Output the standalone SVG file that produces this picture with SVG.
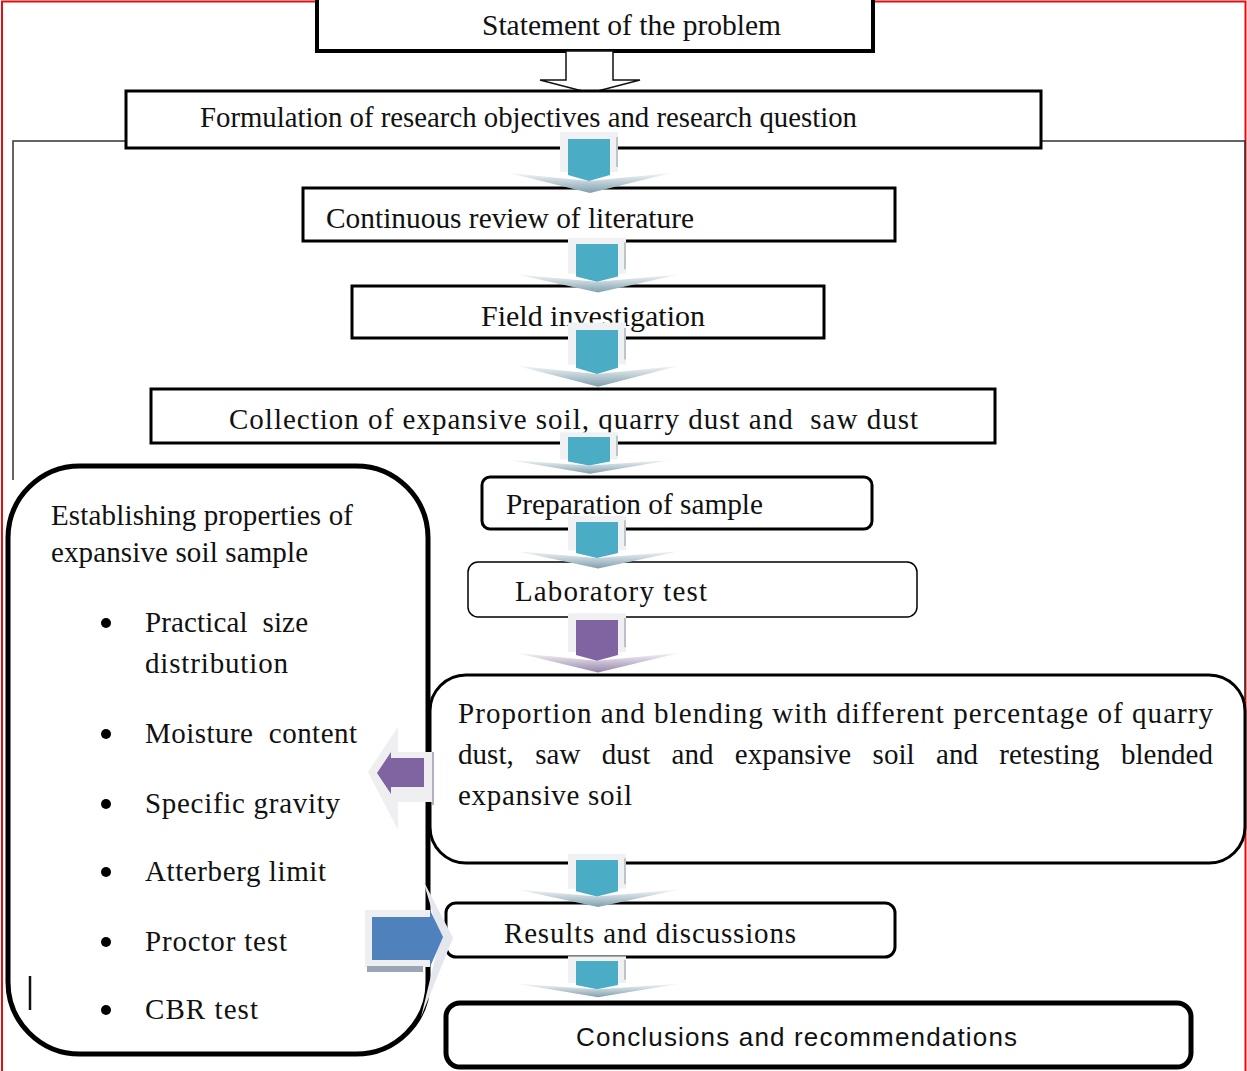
<svg xmlns="http://www.w3.org/2000/svg" xmlns:xlink="http://www.w3.org/1999/xlink" width="1247" height="1071" viewBox="0 0 1247 1071">
<style>
.t{font-family:"Liberation Serif","Times New Roman",serif;font-size:29px;fill:#111}
.s{font-family:"Liberation Sans",Arial,sans-serif;font-size:26px;fill:#111}
.box{fill:#fff;stroke:#000}
</style>
<defs>
<linearGradient id="wingT" x1="0" y1="0" x2="0" y2="1">
<stop offset="0" stop-color="#f4f6f7"/><stop offset="1" stop-color="#7f9fae"/>
</linearGradient>
<linearGradient id="wingP" x1="0" y1="0" x2="0" y2="1">
<stop offset="0" stop-color="#f5f3f7"/><stop offset="1" stop-color="#9585aa"/>
</linearGradient>
<g id="arrT">
<rect x="-29" y="-7" width="58" height="40" fill="#f0f1f2"/>
<line x1="28" y1="-2" x2="28" y2="28" stroke="#bcc5ca" stroke-width="2"/>
<polygon points="-80,34 0,42 82,34 1,54" fill="url(#wingT)"/>
<polygon points="-21,0 21,0 21,36 0,42 -21,36" fill="#4bacc6"/>
</g>
<g id="arrP">
<rect x="-29" y="-7" width="58" height="40" fill="#f0f0f2"/>
<line x1="28" y1="-2" x2="28" y2="28" stroke="#c2bccb" stroke-width="2"/>
<polygon points="-80,34 0,42 82,34 1,54" fill="url(#wingP)"/>
<polygon points="-21,0 21,0 21,36 0,42 -21,36" fill="#8064a2"/>
</g>
</defs>
<rect x="0" y="0" width="1247" height="1071" fill="#fff"/>
<path d="M2,1071 V1.5 H1245.5 V1071" fill="none" stroke="#e01010" stroke-width="2"/>
<path d="M126,141 H13 V480 M1041,141 H1245 V700" fill="none" stroke="#333" stroke-width="1.5"/>

<g id="n-statement">
<rect class="box" x="317" y="-6" width="556" height="57" stroke-width="4"/>
<text class="t" x="482" y="35" font-size="29" textLength="299" lengthAdjust="spacingAndGlyphs">Statement of the problem</text>
</g>
<g id="c-hollow">
<polygon points="566,51 613,51 613,80 640,80 590,93 540,80 566,80" fill="#fff" stroke="#111" stroke-width="1.5"/>
</g>
<g id="n-formulation">
<rect class="box" x="126" y="91" width="915" height="57" stroke="#203864" stroke-width="3"/>
<text class="t" x="200" y="127" font-size="29" textLength="657" lengthAdjust="spacingAndGlyphs">Formulation of research objectives and research question</text>
</g>
<g id="n-continuous">
<rect class="box" x="303" y="188" width="592" height="53" stroke-width="3"/>
<text class="t" x="326" y="228" font-size="29" textLength="368" lengthAdjust="spacingAndGlyphs">Continuous review of literature</text>
</g>
<g id="n-field">
<rect class="box" x="352" y="286" width="472" height="52" stroke-width="3"/>
<text class="t" x="481" y="326" font-size="29" textLength="224" lengthAdjust="spacingAndGlyphs">Field investigation</text>
</g>
<g id="n-collection">
<rect class="box" x="151" y="389" width="844" height="54" stroke-width="3"/>
<text class="t" x="229" y="429" font-size="29" textLength="689" lengthAdjust="spacing" xml:space="preserve">Collection of expansive soil, quarry dust and  saw dust</text>
</g>
<g id="n-preparation">
<rect class="box" x="482" y="477" width="390" height="52" rx="8" stroke-width="3"/>
<text class="t" x="506" y="514" font-size="29" textLength="257" lengthAdjust="spacingAndGlyphs">Preparation of sample</text>
</g>
<g id="n-laboratory">
<rect class="box" x="468" y="562" width="449" height="55" rx="10" stroke-width="1.5"/>
<text class="t" x="515" y="601" font-size="29" textLength="192" lengthAdjust="spacing">Laboratory test</text>
</g>
<g id="n-proportion">
<rect class="box" x="430" y="675" width="815" height="188" rx="36" stroke-width="3"/>
<text class="t" x="458" y="723" textLength="755" lengthAdjust="spacing">Proportion and blending with different percentage of quarry</text>
<text class="t" x="458" y="764" textLength="755" lengthAdjust="spacing" word-spacing="14">dust, saw dust and expansive soil and retesting blended</text>
<text class="t" x="458" y="805" textLength="174" lengthAdjust="spacing">expansive soil</text>
</g>
<g id="n-properties">
<rect class="box" x="8" y="466" width="420" height="588" rx="72" stroke-width="5"/>
<text class="t" x="51" y="525" textLength="302" lengthAdjust="spacing">Establishing properties of</text>
<text class="t" x="51" y="562" textLength="257" lengthAdjust="spacing">expansive soil sample</text>
<g fill="#000">
<circle cx="106" cy="623" r="5"/><circle cx="106" cy="734" r="5"/><circle cx="106" cy="804" r="5"/>
<circle cx="106" cy="872" r="5"/><circle cx="106" cy="942" r="5"/><circle cx="106" cy="1010" r="5"/>
</g>
<text class="t" x="145" y="632" textLength="163" lengthAdjust="spacing" xml:space="preserve">Practical  size</text>
<text class="t" x="145" y="673" textLength="143" lengthAdjust="spacing">distribution</text>
<text class="t" x="145" y="743" textLength="212" lengthAdjust="spacing" xml:space="preserve">Moisture  content</text>
<text class="t" x="145" y="813" textLength="195" lengthAdjust="spacing">Specific gravity</text>
<text class="t" x="145" y="881" textLength="181" lengthAdjust="spacing">Atterberg limit</text>
<text class="t" x="145" y="951" textLength="142" lengthAdjust="spacing">Proctor test</text>
<text class="t" x="145" y="1019" textLength="113" lengthAdjust="spacing">CBR test</text>
<line x1="30" y1="976" x2="30" y2="1010" stroke="#111" stroke-width="2.5"/>
</g>
<g id="n-results">
<rect class="box" x="446" y="903" width="449" height="54" rx="10" stroke-width="3"/>
<text class="t" x="504" y="943" font-size="29" textLength="292" lengthAdjust="spacing">Results and discussions</text>
</g>
<g id="n-conclusions">
<rect class="box" x="446" y="1003" width="745" height="64" rx="14" stroke-width="5"/>
<text class="s" x="576" y="1046" textLength="441" lengthAdjust="spacing">Conclusions and recommendations</text>
</g>

<g id="connectors">
<use xlink:href="#arrT" transform="translate(589,139)"/>
<use xlink:href="#arrT" transform="translate(597,244) scale(1,0.9)"/>
<use xlink:href="#arrT" transform="translate(597,330) scale(1,1.05)"/>
<use xlink:href="#arrT" transform="translate(589,437) scale(1,0.68)"/>
<use xlink:href="#arrT" transform="translate(597,522) scale(1,0.86)"/>
<use xlink:href="#arrP" transform="translate(597,620) scale(1,0.97)"/>
<use xlink:href="#arrT" transform="translate(597,860) scale(1,0.87)"/>
<use xlink:href="#arrT" transform="translate(597,961) scale(1,0.67)"/>
<g id="c-left">
<polygon points="368,772 398,727 398,752 434,752 434,802 398,802 398,830" fill="#efeff1"/>
<line x1="433" y1="752" x2="433" y2="805" stroke="#b8adc6" stroke-width="2"/>
<polygon points="377,773 391,752 391,758 424,758 424,787 391,787 391,794" fill="#8064a2"/>
</g>
<g id="c-right">
<polygon points="423,880 453,938 421,1017 440,938" fill="#e4e8ee"/>
<rect x="365" y="910" width="65" height="57" fill="#eeeff1"/>
<rect x="367" y="966" width="56" height="6" fill="#9aa6b6"/>
<polygon points="372,917 430,917 430,910 443,937 430,967 430,960 372,960" fill="#4f81bd"/>
</g>
</g>
</svg>
